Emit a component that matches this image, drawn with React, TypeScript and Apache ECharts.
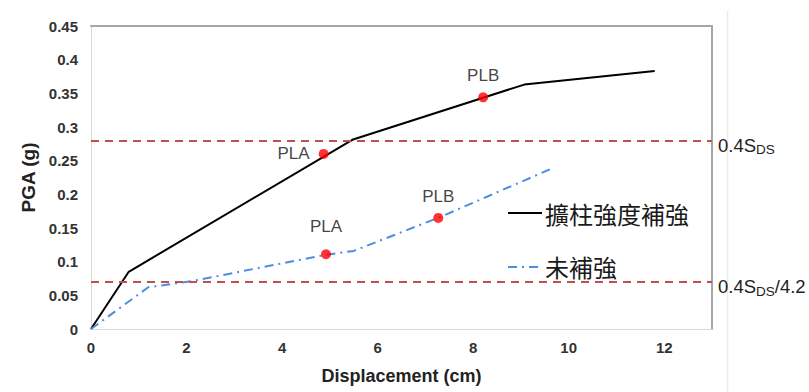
import React, { useEffect, useRef } from "react";
import * as echarts from "echarts";

const strengthenedName = "擴柱強度補強";
const unreinforcedName = "未補強";

const strengthenedCurve: [number, number][] = [
  [0, 0], [0.79, 0.085], [5.47, 0.281], [9.07, 0.363], [11.8, 0.383],
];
const unreinforcedCurve: [number, number][] = [
  [0, 0], [1.2, 0.062], [2.1, 0.071], [4.9, 0.11], [5.5, 0.116], [7.3, 0.166], [9.7, 0.24],
];
const strengthenedPoints: [number, number][] = [[4.87, 0.26], [8.21, 0.344]];
const unreinforcedPoints: [number, number][] = [[4.92, 0.111], [7.27, 0.165]];
const pointNames = ["PLA", "PLB"];

const refValues = [0.281, 0.0669];
const refLabels = ["{b|0.4S}{s|DS}", "{b|0.4S}{s|DS}{b|/4.2}"];

const xMin = 0, xMax = 13, xStep = 2;
const yMin = 0, yMax = 0.45, yStep = 0.05;

const FONT = "'Liberation Sans', Arial, sans-serif";

export default function App() {
  const ref = useRef<HTMLDivElement>(null);
  useEffect(() => {
    if (!ref.current) return;
    const chart = echarts.init(ref.current, undefined, { renderer: "svg" });
    const axisLabel = { fontFamily: FONT, fontWeight: "bold" as const, fontSize: 15, color: "#333" };
    const mkPoints = (pts: [number, number][], positions: string[], distances: number[]) =>
      pts.map((p, i) => ({
        value: p,
        name: pointNames[i],
        label: { show: true, formatter: pointNames[i], position: positions[i], distance: distances[i] },
      }));
    chart.setOption({
      animation: false,
      backgroundColor: "#fff",
      grid: { left: 91, right: 97, top: 26, bottom: 63, show: false },
      legend: {
        data: [strengthenedName, unreinforcedName],
        orient: "vertical",
        left: 502,
        top: 196,
        itemWidth: 34,
        itemHeight: 14,
        itemGap: 30,
        itemStyle: { opacity: 0 },
        textStyle: { fontFamily: "'Noto Sans CJK TC', sans-serif", fontSize: 24, color: "#1a1a1a", padding: [0, 0, 0, -2] },
      },
      xAxis: [
        {
          type: "value", min: xMin, max: xMax, interval: xStep,
          axisLine: { show: true, lineStyle: { color: "#d9d9d9", width: 1 } },
          axisTick: { show: false },
          splitLine: { show: false },
          axisLabel: { ...axisLabel, margin: 11, showMaxLabel: false },
          name: "Displacement (cm)",
          nameLocation: "middle",
          nameGap: 38,
          nameTextStyle: { fontFamily: FONT, fontWeight: "bold", fontSize: 18, color: "#222" },
        },
        {
          type: "value", min: xMin, max: xMax, position: "top",
          axisLine: { show: true, onZero: false, lineStyle: { color: "#a6a6a6", width: 2 } },
          axisTick: { show: false }, axisLabel: { show: false }, splitLine: { show: false },
        },
      ],
      yAxis: [
        {
          type: "value", min: yMin, max: yMax, interval: yStep,
          axisLine: { show: true, lineStyle: { color: "#d9d9d9", width: 1 } },
          axisTick: { show: false },
          splitLine: { show: false },
          axisLabel: { ...axisLabel, margin: 13 },
          name: "PGA (g)",
          nameLocation: "middle",
          nameGap: 47,
          nameTextStyle: { fontFamily: FONT, fontWeight: "bold", fontSize: 19, color: "#222" },
        },
        {
          type: "value", min: yMin, max: yMax, position: "right",
          axisLine: { show: true, onZero: false, lineStyle: { color: "#a6a6a6", width: 2 } },
          axisTick: { show: false }, axisLabel: { show: false }, splitLine: { show: false },
        },
      ],
      graphic: [
        {
          type: "line",
          shape: { x1: 727.5, y1: 11, x2: 727.5, y2: 392 },
          style: { stroke: "#ececec", lineWidth: 1.5 },
          silent: true,
        },
      ],
      series: [
        {
          name: strengthenedName,
          type: "line",
          data: strengthenedCurve,
          symbol: "none",
          lineStyle: { color: "#000", width: 2 },
          itemStyle: { color: "#000" },
          z: 3,
          markLine: {
            silent: true,
            symbol: "none",
            lineStyle: { color: "#c0504d", width: 2, type: [8, 6] },
            label: {
              show: true,
              position: "end",
              distance: 6,
              offset: [0, 5],
              color: "#222",
              fontFamily: FONT,
              rich: {
                b: { fontSize: 18.5, fontFamily: FONT, color: "#222" },
                s: { fontSize: 13.5, fontFamily: FONT, color: "#222", padding: [9, 0, 0, 0] },
              },
            },
            data: refValues.map((v, i) => ({ yAxis: v, label: { formatter: refLabels[i] } })),
          },
        },
        {
          name: unreinforcedName,
          type: "line",
          data: unreinforcedCurve,
          symbol: "none",
          lineStyle: { color: "#4a8ee0", width: 2, type: [9, 5, 2, 5] },
          itemStyle: { color: "#4a8ee0" },
          z: 3,
        },
        {
          name: "pointsA",
          type: "scatter",
          data: mkPoints(strengthenedPoints, ["left", "top"], [9, 8]),
          symbolSize: 10,
          itemStyle: { color: "#ff0000" },
          label: { fontFamily: FONT, fontSize: 17, color: "#111" },
          z: 5,
        },
        {
          name: "pointsB",
          type: "scatter",
          data: mkPoints(unreinforcedPoints, ["top", "top"], [14, 8]),
          symbolSize: 10,
          itemStyle: { color: "#ff0000" },
          label: { fontFamily: FONT, fontSize: 17, color: "#111" },
          z: 5,
        },
      ],
    });
    return () => chart.dispose();
  }, []);
  return (
    <div
      ref={ref}
      style={{ position: "fixed", left: 0, top: 0, width: 809, height: 392, background: "#fff" }}
    />
  );
}
